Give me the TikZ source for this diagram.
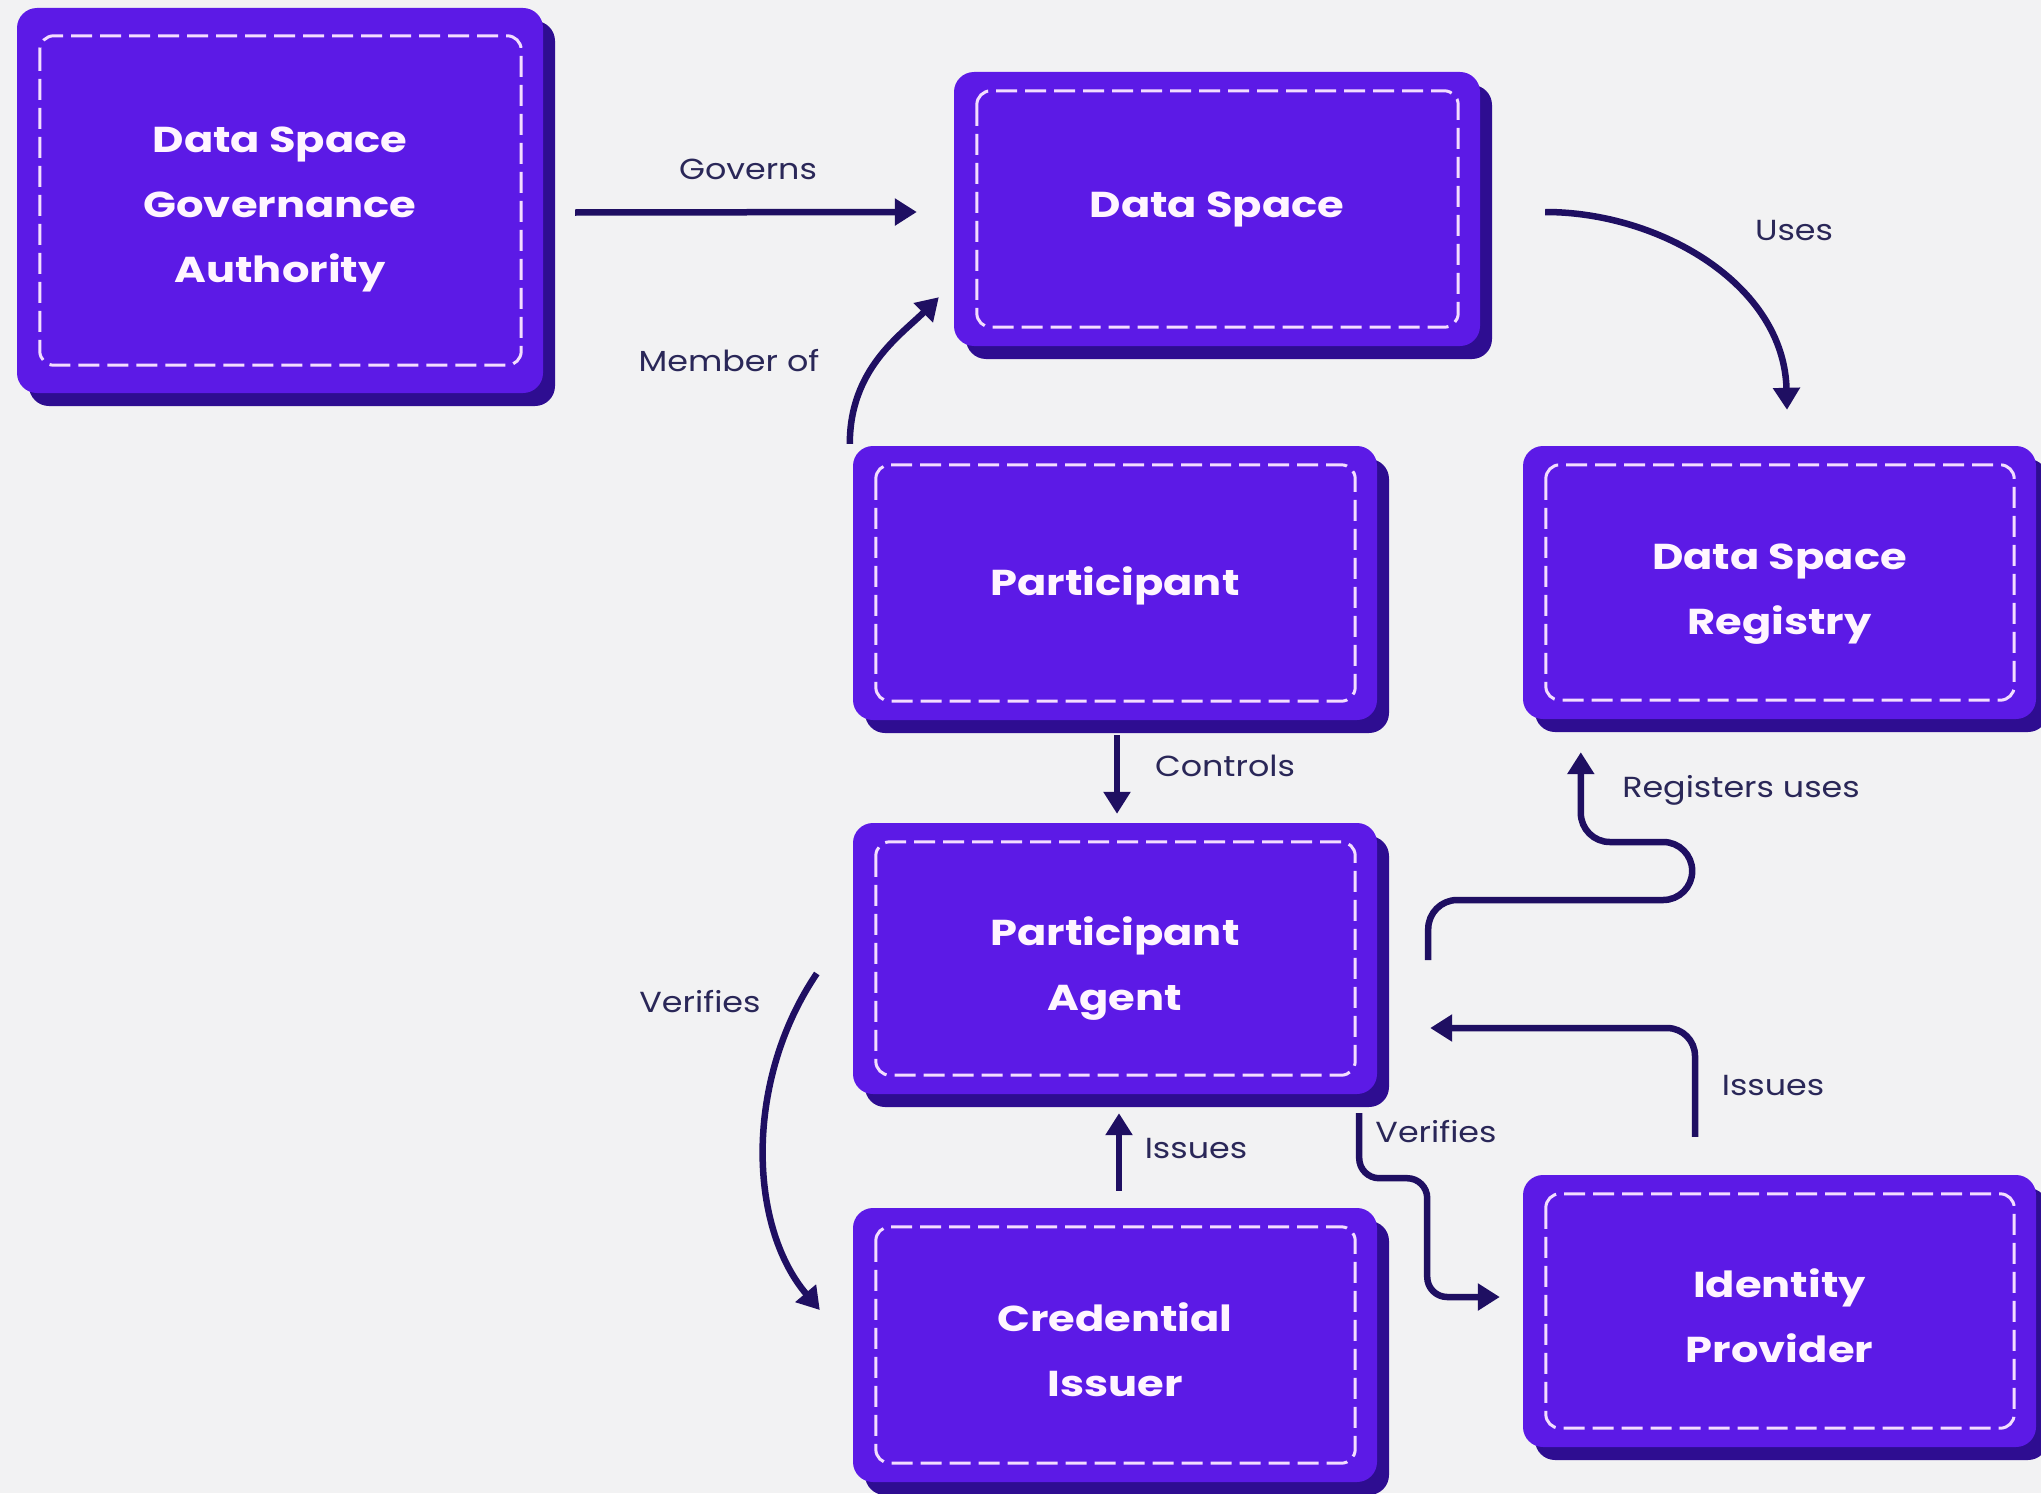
\documentclass[tikz,border=0pt]{standalone}
\usepackage{fontspec}
\usetikzlibrary{arrows.meta,shadows}
\newfontfamily\boxfont{Poppins}[FakeStretch=1.2]
\newfontfamily\lblfont{Poppins}[FakeStretch=1.15]
\definecolor{bgc}{HTML}{F2F2F3}
\definecolor{facec}{HTML}{5C1AE6}
\definecolor{shadowc}{HTML}{2E0D91}
\definecolor{dashc}{HTML}{F3DDFF}
\definecolor{arrc}{HTML}{1F0F62}
\definecolor{lblc}{HTML}{2A2758}
\definecolor{txtc}{HTML}{FFF5FF}
\begin{document}
\begin{tikzpicture}[x=1pt,y=-1pt,
  box/.style={rectangle, rounded corners=20pt, fill=facec, draw=none, inner sep=0pt,
    drop shadow={shadow xshift=12pt, shadow yshift=-13pt, fill=shadowc, opacity=1}},
  boxtxt/.style={align=center, text=txtc, inner sep=0pt,
    font=\boxfont\bfseries\fontsize{36}{65}\selectfont},
  dashbox/.style={draw=dashc, line width=3pt, dash pattern=on 21pt off 8pt, rounded corners=14pt},
  arr/.style={draw=arrc, line width=6.5pt, -{Triangle[length=22pt,width=26pt]}},
  lbl/.style={text=lblc, font=\lblfont\fontsize{29}{35}\selectfont, inner sep=0pt,
    text height=21pt, text depth=6pt}
]
\fill[bgc] (0,0) rectangle (2041,1493);
\useasboundingbox (0,0) rectangle (2041,1493);

% boxes
\node[box, minimum width=526pt, minimum height=385pt] (gov) at (280,200.5) {};
\node[box, minimum width=526pt, minimum height=274pt] (ds) at (1217,209) {};
\node[box, minimum width=524pt, minimum height=274pt] (part) at (1115,583) {};
\node[box, minimum width=513pt, minimum height=273pt] (reg) at (1779.5,582.5) {};
\node[box, minimum width=524pt, minimum height=271pt] (agent) at (1115,958.5) {};
\node[box, minimum width=524pt, minimum height=274pt] (ci) at (1115,1345) {};
\node[box, minimum width=513pt, minimum height=272pt] (idp) at (1779.5,1311) {};

\foreach \n/\iy in {gov/28, ds/19, part/19, reg/19, agent/19, ci/19, idp/19}
  \draw[dashbox] ([shift={(23,\iy)}]\n.north west) rectangle ([shift={(-22,-\iy)}]\n.south east);

% box texts
\node[boxtxt] (govt) at ([shift={(0,9)}]gov.center) {Data Space\\Governance\\Authority};
\node[boxtxt] (dst) at (ds.center) {Data Space};
\node[boxtxt] (partt) at ([shift={(0,3)}]part.center) {Participant};
\node[boxtxt] (regt) at ([shift={(0,12)}]reg.center) {Data Space\\Registry};
\node[boxtxt] (agentt) at ([shift={(0,10)}]agent.center) {Participant\\Agent};
\node[boxtxt] (cit) at ([shift={(0,5)}]ci.center) {Credential\\Issuer};
\node[boxtxt] (idpt) at ([shift={(0,5)}]idp.center) {Identity\\Provider};

% connectors
\draw[arr] ([shift={(32,12)}]gov.east) -- ([shift={(-37,3)}]ds.west);
\node[lbl] (lgov) at (748,172) {Governs};

\draw[arr] ([shift={(-3,-2)}]part.north west) .. controls +(0,-75) and +(-38,38) .. ([shift={(-15,-49)}]ds.south west);
\node[lbl] (lmem) at (729,364) {Member of};

\draw[arr] ([shift={(65,3)}]ds.east) .. controls +(115,0) and +(-3,-125) .. ([shift={(7.5,-36)}]reg.north);
\node[lbl] (luses) at (1794,233) {Uses};

\draw[arr] ([shift={(2,15)}]part.south) -- ([shift={(2,-9)}]agent.north);
\node[lbl] (lctrl) at (1225,769) {Controls};

\draw[arr, rounded corners=29pt] ([shift={(51,1.5)}]agent.east) -- ++(0,-60) -- ++(264,0) -- ++(0,-58) -| ([shift={(58,33)}]reg.south west);
\node[lbl] (lreg) at (1741,790) {Registers uses};

\draw[arr, rounded corners=28pt] ([shift={(-84.5,-38)}]idp.north) |- ([shift={(53,69.5)}]agent.east);
\node[lbl] (liss2) at (1773,1088) {Issues};

\draw[arr, rounded corners=20pt] ([shift={(-18,19)}]agent.south east) -- ++(0,65) -- ++(68,0) |- ([shift={(-23,-14)}]idp.west);
\node[lbl] (lver2) at (1436,1135) {Verifies};

\draw[arr] ([shift={(4,-17)}]ci.north) -- ([shift={(4,19)}]agent.south);
\node[lbl] (liss1) at (1196,1151) {Issues};

\draw[arr] ([shift={(-36,15)}]agent.west) .. controls +(-72,106) and +(-72,-85) .. ([shift={(-33,-35)}]ci.west);
\node[lbl] (lver1) at (700,1005) {Verifies};
\end{tikzpicture}
\end{document}
